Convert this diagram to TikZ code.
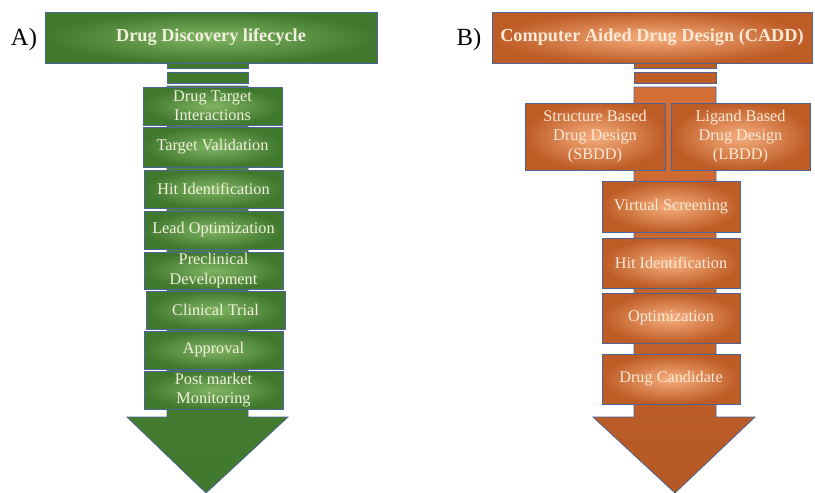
\documentclass[tikz,border=0pt]{standalone}
\usepackage{fontspec}
\setmainfont{Liberation Serif}
\definecolor{gdark}{RGB}{64,120,46}
\definecolor{gmid}{RGB}{78,138,58}
\definecolor{glight}{RGB}{128,180,98}
\definecolor{odark}{RGB}{190,92,38}
\definecolor{omid}{RGB}{212,112,55}
\definecolor{olight}{RGB}{246,174,126}
\definecolor{edgec}{RGB}{78,100,150}
\definecolor{gtext}{RGB}{242,240,222}
\definecolor{otext}{RGB}{252,234,214}
\newcommand\mybox[7]{\node[#1, minimum width={(#5-#3)*0.75pt}, minimum height={(#6-#4)*0.75pt}] (#2) at ({(#3+#5)/2},{(#4+#6)/2}) {#7};}
\begin{document}
\begin{tikzpicture}[x=0.75pt,y=-0.75pt,
  boxbase/.style={draw=edgec, line width=0.6pt, inner sep=0pt, outer sep=0pt, align=center,
    font=\fontsize{12.2}{14.4}\selectfont},
  gbox/.style={boxbase, inner color=glight, outer color=gdark, text=gtext},
  obox/.style={boxbase, inner color=olight, outer color=odark, text=otext},
  titlefont/.style={font=\fontsize{13.7}{16}\selectfont\bfseries},
  gshaft/.style={draw=edgec, line width=0.6pt, top color=gmid, bottom color=gdark},
  oshaft/.style={draw=edgec, line width=0.6pt, top color=omid, bottom color=odark!95!black},
  gbar/.style={draw=edgec, line width=0.5pt, fill=gdark},
  obar/.style={draw=edgec, line width=0.5pt, fill=odark},
  panel/.style={font=\fontsize{18.5}{20}\selectfont, text=black, inner sep=0pt}
]
\useasboundingbox (0,0) rectangle (815,493);

% ---------- Panel A ----------
\node[panel] (labA) at (24,40) {A)};
\path[gbar] (167,63) rectangle (248,68);
\path[gbar] (167,72) rectangle (248,83);
\path[gshaft] (167,86) -- (248,86) -- (248,417) -- (288,417) -- (206,493) -- (127,417) -- (167,417) -- cycle;

\mybox{gbox,titlefont}{ta}{45}{12}{377}{63}{Drug Discovery lifecycle}
\mybox{gbox}{a1}{143}{87}{282}{125}{Drug Target\\Interactions}
\mybox{gbox}{a2}{143}{127}{282}{167}{Target Validation}
\mybox{gbox}{a3}{144}{170}{283}{208}{Hit Identification}
\mybox{gbox}{a4}{144}{211}{283}{249}{Lead Optimization}
\mybox{gbox}{a5}{144}{252}{283}{289}{Preclinical\\Development}
\mybox{gbox}{a6}{146}{291}{285}{329}{Clinical Trial}
\mybox{gbox}{a7}{144}{331}{283}{369}{Approval}
\mybox{gbox}{a8}{144}{371}{283}{409}{Post market\\Monitoring}

% ---------- Panel B ----------
\node[panel] (labB) at (469,40) {B)};
\path[obar] (634,63) rectangle (716,68);
\path[obar] (634,72) rectangle (716,83);
\path[oshaft] (634,87) -- (716,87) -- (716,417) -- (755,417) -- (675,493) -- (593,417) -- (634,417) -- cycle;

\mybox{obox,titlefont}{tb}{492}{12}{812}{63}{Computer Aided Drug Design (CADD)}
\mybox{obox}{sb}{525}{103}{665}{170}{Structure Based\\Drug Design\\(SBDD)}
\mybox{obox}{lb}{671}{103}{810}{170}{Ligand Based\\Drug Design\\(LBDD)}
\mybox{obox}{b1}{602}{181}{740}{232}{Virtual Screening}
\mybox{obox}{b2}{602}{238}{740}{288}{Hit Identification}
\mybox{obox}{b3}{602}{293}{740}{343}{Optimization}
\mybox{obox}{b4}{602}{354}{740}{404}{Drug Candidate}
\end{tikzpicture}
\end{document}
